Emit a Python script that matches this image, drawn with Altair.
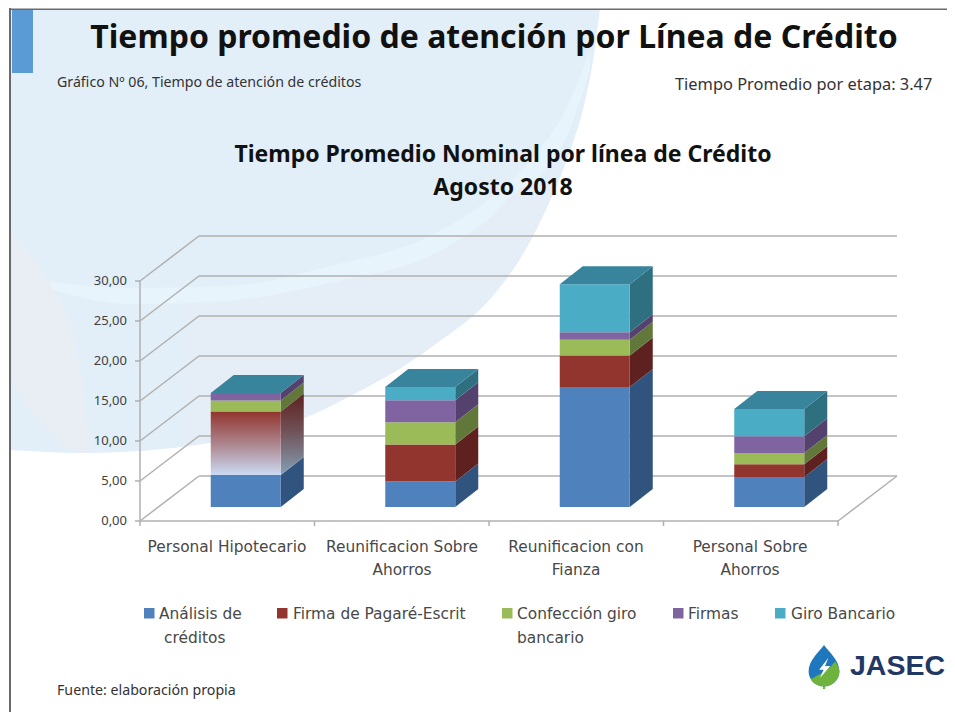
import altair as alt
import pandas as pd

# ---- chart values ----
categories = ["Personal Hipotecario", "Reunificacion Sobre Ahorros", "Reunificacion con Fianza", "Personal Sobre Ahorros"]
analisis = [4.0, 3.2, 15.0, 3.75]
firma_pagare = [7.9, 4.6, 3.95, 1.6]
confeccion = [1.4, 2.8, 1.95, 1.4]
firmas = [0.95, 2.75, 0.95, 2.1]
giro = [0.0, 1.65, 6.0, 3.4]
series_names = ["Análisis de créditos", "Firma de Pagaré-Escrit", "Confección giro bancario", "Firmas", "Giro Bancario"]
series_values = [analisis, firma_pagare, confeccion, firmas, giro]
front_colors = ["#4F81BD", "#93352F", "#9BBB59", "#8064A2", "#4BACC6"]
side_colors = ["#31547E", "#5F2120", "#62773A", "#54416E", "#2F7080"]
top_color = "#37849C"
y_ticks = [0, 5, 10, 15, 20, 25, 30]

# ---- page geometry: page pixels to chart units ----
W, H = 939, 704
CAT_PX, UNIT_PX = 174.5, 8.0
def sx(p): return (p - 140) / CAT_PX
def sy(p): return (520 - p) / UNIT_PX
DX, DY = 59 / CAT_PX, 45 / UNIT_PX          # depth of the 3D box
BX, BY = 18.5 / CAT_PX, 14 / UNIT_PX        # where the bars stand on the floor
BAR = 70 / CAT_PX
BDX, BDY = 23 / CAT_PX, 18 / UNIT_PX        # depth of each bar

xs = alt.Scale(domain=[sx(8), sx(8 + W)], nice=False, zero=False)
ys = alt.Scale(domain=[sy(7 + H), sy(7)], nice=False, zero=False)
X = lambda f="x": alt.X(f"{f}:Q", scale=xs, axis=None)
Y = lambda f="y": alt.Y(f"{f}:Q", scale=ys, axis=None)
X2 = lambda f="x2": alt.X2(f)
Y2 = lambda f="y2": alt.Y2(f)

layers = []

# ---- slide background ----
edge = [(10, 449), (83, 452), (163, 448), (230, 438), (297, 420), (363, 388), (430, 347),
        (497, 290), (520, 258), (533, 235), (550, 200), (570, 150), (585, 100), (593, 60), (600, 8)]
def edge_y(x):
    for (a, b), (c, d) in zip(edge, edge[1:]):
        if a <= x <= c:
            return b + (d - b) * (x - a) / (c - a)
    return 9
def area_layer(rows, color):
    return alt.Chart(pd.DataFrame(rows)).mark_area(color=color, interpolate="monotone", opacity=1).encode(
        x=X(), y=Y(), y2=Y2())
layers.append(area_layer([{"x": sx(a), "y": sy(8), "y2": sy(b)} for a, b in edge], "#E3EFF8"))

stripe = [(50, 281, 288), (130, 287, 303), (230, 285, 300), (330, 265, 282), (430, 235, 255), (480, 205, 225),
          (530, 160, 185), (570, 100, 128), (590, 50, 68)]
layers.append(area_layer([{"x": sx(a), "y": sy(t), "y2": sy(b)} for a, t, b in stripe], "#E8F4FB"))
lav_x = [(187, 302), (230, 300), (330, 282), (430, 255), (480, 225), (530, 185), (548, 204)]
lav_rows = [{"x": sx(a), "y": sy(t), "y2": sy(edge_y(a))} for a, t in lav_x]
layers.append(area_layer(lav_rows, "#E5EDF6"))
pink = [(12, 233, 377), (33, 258, 413), (50, 283, 430), (67, 315, 447), (77, 350, 450), (90, 445, 452)]
layers.append(area_layer([{"x": sx(a), "y": sy(t), "y2": sy(b)} for a, t, b in pink], "#E9EEF5"))

def rect(x0, x1, y0, y1, color):
    return alt.Chart(pd.DataFrame([{"x": sx(x0), "x2": sx(x1), "y": sy(y0), "y2": sy(y1)}])).mark_rect(color=color).encode(
        x=X(), x2=X2(), y=Y(), y2=Y2())
layers.append(rect(12, 33, 9, 72, "#5B9BD5"))
layers.append(rect(9, 11, 7, 712, "#6A6A6A"))
layers.append(rect(9, 955, 7.5, 9, "#6A6A6A"))

# ---- 3D frame ----
segs = []
for v in y_ticks:
    segs.append({"x": 0, "y": v, "x2": DX, "y2": v + DY})
    segs.append({"x": DX, "y": v + DY, "x2": 4 + DX, "y2": v + DY})
    segs.append({"x": -5 / CAT_PX, "y": v, "x2": 0, "y2": v})
segs.append({"x": 0, "y": 0, "x2": 0, "y2": 30})
segs.append({"x": 0, "y": 0, "x2": 4, "y2": 0})
segs.append({"x": 4, "y": 0, "x2": 4 + DX, "y2": DY})
for i in range(5):
    segs.append({"x": i, "y": 0, "x2": i, "y2": -5 / UNIT_PX})
layers.append(alt.Chart(pd.DataFrame(segs)).mark_rule(color="#B0B0B0", strokeWidth=1.5).encode(
    x=X(), x2=X2(), y=Y(), y2=Y2()))

# ---- bars ----
front, side, tops = [], [], []
for c in range(len(categories)):
    left = c + 0.5 + BX - BAR / 2
    right = left + BAR
    low = BY
    for s, vals in enumerate(series_values):
        hi = low + vals[c]
        if vals[c] > 0:
            grad = (c == 0 and s == 1)
            front.append({"x": left, "x2": right, "y": low, "y2": hi, "s": s, "grad": grad})
            for xx, off in ((right, 0), (right + BDX, BDY)):
                side.append({"x": xx, "y": low + off, "y2": hi + off, "s": s, "id": f"{c}-{s}", "grad": grad})
        low = hi
    tops.append({"id": c, "y": low, "x": left, "x2": right})
    tops.append({"id": c, "y": low + BDY, "x": left + BDX, "x2": right + BDX})

front = pd.DataFrame(front)
side = pd.DataFrame(side)
tops = pd.DataFrame(tops)

for s, (fc, sc) in enumerate(zip(front_colors, side_colors)):
    layers.append(alt.Chart(side[(side.s == s) & ~side.grad]).mark_area(color=sc, interpolate="linear", opacity=1).encode(
        x=X(), y=Y(), y2=Y2(), detail="id:N"))
    layers.append(alt.Chart(front[(front.s == s) & ~front.grad]).mark_rect(color=fc).encode(
        x=X(), x2=X2(), y=Y(), y2=Y2()))
layers.append(alt.Chart(side[side.grad]).mark_area(
    interpolate="linear", opacity=1,
    color=alt.Gradient(gradient="linear", x1=0, y1=0, x2=0, y2=1,
                       stops=[alt.GradientStop(color="#5F2120", offset=0), alt.GradientStop(color="#6F5056", offset=0.45),
                              alt.GradientStop(color="#85A0B5", offset=1)])).encode(
    x=X(), y=Y(), y2=Y2()))
layers.append(alt.Chart(tops).mark_area(orient="horizontal", color=top_color, interpolate="linear", opacity=1).encode(
    y=Y(), x=X(), x2=X2(), detail="id:N"))
layers.append(alt.Chart(front[front.grad]).mark_rect(
    color=alt.Gradient(gradient="linear", x1=0, y1=0, x2=0, y2=1,
                       stops=[alt.GradientStop(color="#93352F", offset=0), alt.GradientStop(color="#AE8C96", offset=0.55),
                              alt.GradientStop(color="#CBDAF3", offset=1)])).encode(
    x=X(), x2=X2(), y=Y(), y2=Y2()))

# ---- texts ----
def text(rows, font, size, color, weight="normal", align="left"):
    df = pd.DataFrame([{"x": sx(a), "y": sy(b), "t": t} for a, b, t in rows])
    return alt.Chart(df).mark_text(font=font, fontSize=size, color=color, fontWeight=weight, align=align,
                                   baseline="middle").encode(x=X(), y=Y(), text="t:N")

UI = "DejaVu Sans"
HEAD = "Noto Sans"
layers.append(text([(494, 37, "Tiempo promedio de atención por Línea de Crédito")], HEAD, 32, "#111111", "bold", "center"))
layers.append(text([(57, 82, "Gráfico Nº 06, Tiempo de atención de créditos")], HEAD, 14.2, "#333333"))
layers.append(text([(675, 84, "Tiempo Promedio por etapa: 3.47")], HEAD, 16.4, "#333333"))
layers.append(text([(503, 154, "Tiempo Promedio Nominal por línea de Crédito"), (503, 187, "Agosto 2018")], HEAD, 23, "#111111", "bold", "center"))
layers.append(text([(57, 690, "Fuente: elaboración propia")], HEAD, 14.2, "#333333"))

ytxt = [(127, 520 - v * UNIT_PX, f"{v},00") for v in y_ticks]
layers.append(text(ytxt, HEAD, 13, "#404040", align="right"))
xtxt = [(227, 546, "Personal Hipotecario"), (402, 546, "Reunificacion Sobre"), (402, 569, "Ahorros"),
        (576, 546, "Reunificacion con"), (576, 569, "Fianza"), (750, 546, "Personal Sobre"), (750, 569, "Ahorros")]
layers.append(text(xtxt, UI, 15.4, "#484848", align="center"))

# ---- legend ----
for (px, color) in zip((144, 277, 502, 673, 775), front_colors):
    layers.append(rect(px, px + 10.5, 607, 617.5, color))
layers.append(text([(159, 613, "Análisis de"), (293, 613, "Firma de Pagaré-Escrit"), (517, 613, "Confección giro"),
                    (517, 637, "bancario"), (688, 613, "Firmas"), (791, 613, "Giro Bancario"), (164, 637, "créditos")],
                   UI, 15.4, "#484848"))

# ---- logo ----
def logo(path, color, size=1936):
    df = pd.DataFrame([{"x": sx(824), "y": sy(666)}])
    return alt.Chart(df).mark_point(shape=path, filled=True, size=size, color=color, opacity=1, strokeWidth=0).encode(x=X(), y=Y())
DROP = "M0,-1 C0.25,-0.65 0.7,-0.3 0.7,0.2 C0.7,0.6 0.35,0.88 0,0.88 C-0.35,0.88 -0.7,0.6 -0.7,0.2 C-0.7,-0.3 -0.25,-0.65 0,-1 Z"
LEAF = "M0.5,-0.25 C0.62,-0.1 0.7,0.05 0.7,0.2 C0.7,0.6 0.35,0.88 0.05,0.88 L0.05,1 L-0.05,1 L-0.05,0.88 C-0.3,0.88 -0.5,0.75 -0.62,0.55 C-0.2,0.35 0.25,0.1 0.5,-0.25 Z"
BOLT = "M0.2,-0.42 L-0.22,0.12 L-0.02,0.12 L-0.18,0.5 L0.28,-0.05 L0.05,-0.05 Z"
layers.append(logo(DROP, "#1F78BE"))
layers.append(logo(LEAF, "#6FB33F"))
layers.append(logo(BOLT, "#FFFFFF"))
layers.append(text([(850, 665, "JASEC")], "Liberation Sans", 28.5, "#1F3864", "bold"))

chart = alt.layer(*layers).properties(
    width=W, height=H, padding=0, autosize=alt.AutoSizeParams(type="none"), background="#FFFFFF"
).configure_view(stroke=None)

chart.save("out.html", embed_options={"renderer": "svg", "actions": False})
